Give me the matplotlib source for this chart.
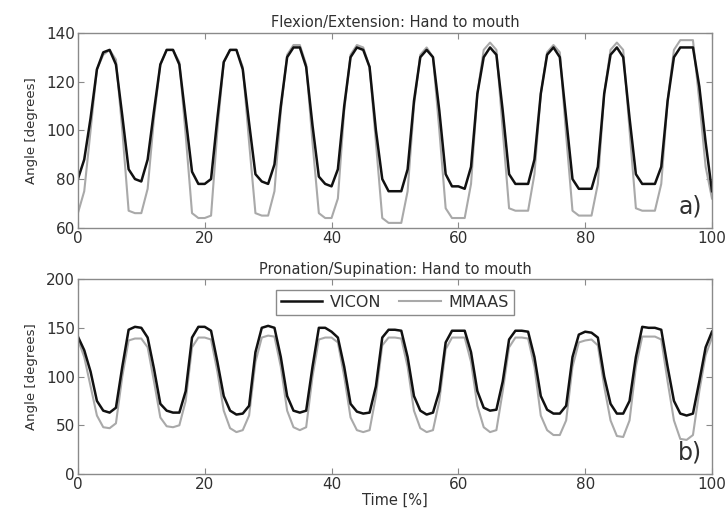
import matplotlib
matplotlib.use("Agg")
import matplotlib.pyplot as plt
import numpy as np

time_pct = np.arange(0, 101)

flex_vicon = [80, 88, 105, 125, 132, 133, 127, 106, 84, 80,
              79, 88, 108, 127, 133, 133, 127, 105, 83, 78,
              78, 80, 105, 128, 133, 133, 125, 103, 82, 79,
              78, 86, 110, 130, 134, 134, 126, 102, 81, 78,
              77, 84, 110, 130, 134, 133, 126, 100, 80, 75,
              75, 75, 84, 112, 130, 133, 130, 108, 82, 77,
              77, 76, 85, 115, 130, 134, 131, 108, 82, 78,
              78, 78, 88, 115, 131, 134, 130, 105, 80, 76,
              76, 76, 85, 115, 131, 134, 130, 105, 82, 78,
              78, 78, 85, 112, 130, 134, 134, 134, 118, 95,
              75]
flex_mmaas = [66, 75, 100, 125, 131, 133, 129, 100, 67, 66,
              66, 76, 105, 127, 133, 133, 128, 98, 66, 64,
              64, 65, 100, 128, 133, 133, 126, 95, 66, 65,
              65, 75, 108, 131, 135, 135, 127, 95, 66, 64,
              64, 72, 108, 131, 135, 134, 126, 95, 64, 62,
              62, 62, 75, 110, 131, 134, 130, 100, 68, 64,
              64, 64, 78, 115, 133, 136, 133, 100, 68, 67,
              67, 67, 82, 115, 132, 135, 132, 98, 67, 65,
              65, 65, 78, 115, 133, 136, 133, 100, 68, 67,
              67, 67, 78, 112, 133, 137, 137, 137, 112, 85,
              72]

pron_vicon = [141, 127, 105, 75, 65, 63, 68, 110, 148, 151,
              150, 140, 108, 72, 65, 63, 63, 85, 140, 151,
              151, 147, 115, 80, 65, 61, 62, 70, 125, 150,
              152, 150, 120, 80, 65, 63, 65, 110, 150, 150,
              146, 140, 110, 72, 64, 62, 63, 90, 140, 148,
              148, 147, 120, 80, 65, 61, 63, 85, 135, 147,
              147, 147, 125, 85, 68, 65, 66, 95, 138, 147,
              147, 146, 120, 80, 66, 62, 62, 70, 120, 143,
              146, 145, 140, 100, 72, 62, 62, 75, 120, 151,
              150, 150, 148, 110, 75, 62, 60, 62, 95, 130,
              146]
pron_mmaas = [138, 120, 90, 60, 48, 47, 52, 100, 137, 139,
              139, 130, 95, 58, 49, 48, 50, 75, 130, 140,
              140, 138, 105, 65, 47, 43, 45, 60, 115, 140,
              142, 141, 110, 65, 48, 45, 48, 100, 138, 140,
              140, 135, 100, 58, 45, 43, 45, 80, 132, 140,
              140, 139, 110, 65, 47, 43, 45, 75, 128, 140,
              140, 140, 115, 70, 48, 43, 45, 85, 130, 140,
              140, 139, 110, 60, 45, 40, 40, 55, 110, 135,
              137, 138, 132, 90, 55, 39, 38, 55, 110, 141,
              141, 141, 138, 95, 55, 36, 35, 40, 85, 122,
              140]

titles = ["Flexion/Extension: Hand to mouth", "Pronation/Supination: Hand to mouth"]
panel_tags = ["a)", "b)"]
series_names = ["VICON", "MMAAS"]

plt.rcParams["font.family"] = ["DejaVu Sans"]
fig = plt.figure(figsize=(7.28, 5.13), dpi=100)
ax1 = fig.add_axes([0.107, 0.556, 0.871, 0.380])
ax2 = fig.add_axes([0.107, 0.076, 0.871, 0.380])

frame_col = "#8a8a8a"
text_col = "#303030"

def style_axes(ax, yticks):
    ax.set_xlim(0, 100)
    ax.set_xticks(np.arange(0, 101, 20))
    ax.set_yticks(yticks)
    ax.set_ylim(yticks[0], yticks[-1])
    ax.tick_params(direction="in", top=True, right=True, length=4,
                   color=frame_col, labelsize=11, labelcolor=text_col, pad=2)
    for s in ax.spines.values():
        s.set_color(frame_col)
        s.set_linewidth(1.0)
    ax.set_ylabel("Angle [degrees]", fontsize=9.5, color=text_col, labelpad=6)

ax1.plot(time_pct, flex_mmaas, color="#a9a9a9", lw=1.5)
ax1.plot(time_pct, flex_vicon, color="#111111", lw=1.8)
style_axes(ax1, [60, 80, 100, 120, 140])
ax1.set_title(titles[0], fontsize=10.5, color=text_col, pad=4)
ax1.text(0.985, 0.05, panel_tags[0], transform=ax1.transAxes, ha="right",
         va="bottom", fontsize=17, color=text_col)

l_mm, = ax2.plot(time_pct, pron_mmaas, color="#a9a9a9", lw=1.5)
l_vi, = ax2.plot(time_pct, pron_vicon, color="#111111", lw=1.8)
style_axes(ax2, [0, 50, 100, 150, 200])
ax2.set_title(titles[1], fontsize=10.5, color=text_col, pad=4)
ax2.set_xlabel("Time [%]", fontsize=10.5, color=text_col, labelpad=1)
ax2.text(0.985, 0.05, panel_tags[1], transform=ax2.transAxes, ha="right",
         va="bottom", fontsize=17, color=text_col)
leg = ax2.legend([l_vi, l_mm], series_names, loc="upper center",
                 bbox_to_anchor=(0.5, 0.944), ncol=2, fancybox=False,
                 edgecolor=frame_col, framealpha=1, fontsize=11.5,
                 handlelength=2.6, columnspacing=1.1, borderpad=0.3,
                 handletextpad=0.5, borderaxespad=0)
for t in leg.get_texts():
    t.set_color(text_col)
leg.get_frame().set_linewidth(1.0)

fig.savefig("out.png", dpi=100)
